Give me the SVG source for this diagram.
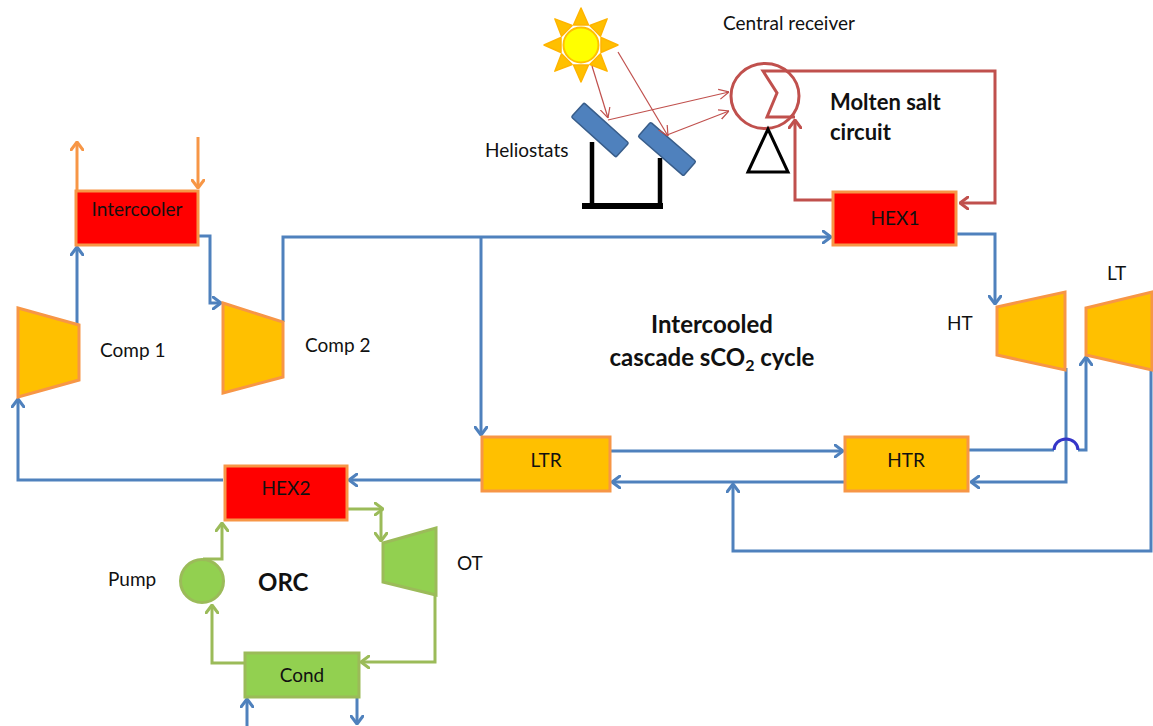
<svg xmlns="http://www.w3.org/2000/svg" xmlns:xlink="http://www.w3.org/1999/xlink" width="1153" height="726" viewBox="0 0 1153 726">
  <style>
    text { font-family: Lato, "Open Sans", "Liberation Sans", sans-serif; fill: #111; }
    .lbl { font-size: 19px; }
    .big { font-size: 22px; font-weight: bold; }
    .cycle { font-size: 24px; }
    .mid { text-anchor: middle; }
    .box-red { fill: #FF0000; stroke: #F79646; stroke-width: 3; }
    .box-amb { fill: #FFC000; stroke: #F79646; stroke-width: 3; }
    .box-grn { fill: #92D050; stroke: #9BBB59; stroke-width: 3; }
    .mach { fill: #FFC000; stroke: #F79646; stroke-width: 3; stroke-linejoin: miter; }
    .mach-grn { fill: #92D050; stroke: #9BBB59; stroke-width: 3; }
    .co2 { fill: none; stroke: #4F81BD; stroke-width: 3; marker-end: url(#ah-blue); }
    .co2-plain { fill: none; stroke: #4F81BD; stroke-width: 3; }
    .orc { fill: none; stroke: #9BBB59; stroke-width: 3; marker-end: url(#ah-green); }
    .salt { fill: none; stroke: #C0504D; stroke-width: 3; }
    .ray { fill: none; stroke: #C0504D; stroke-width: 1.2; marker-end: url(#ah-thin); }
    .cool { fill: none; stroke: #F79646; stroke-width: 3; marker-end: url(#ah-orange); }
  </style>
  <defs>
    <marker id="ah-blue" viewBox="0 0 10 14" refX="9" refY="7" markerWidth="10" markerHeight="14" markerUnits="userSpaceOnUse" orient="auto">
      <path d="M1,1 L9,7 L1,13" fill="none" stroke="#4F81BD" stroke-width="3" stroke-linecap="round" stroke-linejoin="round"/>
    </marker>
    <marker id="ah-green" viewBox="0 0 10 14" refX="9" refY="7" markerWidth="10" markerHeight="14" markerUnits="userSpaceOnUse" orient="auto">
      <path d="M1,1 L9,7 L1,13" fill="none" stroke="#9BBB59" stroke-width="3" stroke-linecap="round" stroke-linejoin="round"/>
    </marker>
    <marker id="ah-orange" viewBox="0 0 10 14" refX="9" refY="7" markerWidth="10" markerHeight="14" markerUnits="userSpaceOnUse" orient="auto">
      <path d="M1,1 L9,7 L1,13" fill="none" stroke="#F79646" stroke-width="3" stroke-linecap="round" stroke-linejoin="round"/>
    </marker>
    <marker id="ah-red" viewBox="0 0 10 14" refX="9" refY="7" markerWidth="10" markerHeight="14" markerUnits="userSpaceOnUse" orient="auto">
      <path d="M1,1 L9,7 L1,13" fill="none" stroke="#C0504D" stroke-width="3" stroke-linecap="round" stroke-linejoin="round"/>
    </marker>
    <marker id="ah-thin" viewBox="0 0 10 12" refX="10" refY="6" markerWidth="10" markerHeight="12" markerUnits="userSpaceOnUse" orient="auto">
      <path d="M0,1 L10,6 L0,11" fill="none" stroke="#C0504D" stroke-width="1.2"/>
    </marker>
    <polygon id="sunray" points="-7.5,-20 0,-37 7.5,-20" fill="#FFC000" stroke="#FFB400" stroke-width="1.5" stroke-linejoin="round"/>
  </defs>

  <rect width="1153" height="726" fill="#FFFFFF"/>

  <!-- Solar field -->
  <g id="sun" transform="translate(581,45)">
    <use xlink:href="#sunray"/>
    <use xlink:href="#sunray" transform="rotate(45)"/>
    <use xlink:href="#sunray" transform="rotate(90)"/>
    <use xlink:href="#sunray" transform="rotate(135)"/>
    <use xlink:href="#sunray" transform="rotate(180)"/>
    <use xlink:href="#sunray" transform="rotate(225)"/>
    <use xlink:href="#sunray" transform="rotate(270)"/>
    <use xlink:href="#sunray" transform="rotate(315)"/>
    <circle r="17.5" fill="#FFFF00" stroke="#FFC000" stroke-width="2"/>
  </g>

  <g id="heliostats">
    <path d="M592,142 V204 M660,158 V204" stroke="#000" stroke-width="4.5" fill="none"/>
    <rect x="582" y="203" width="81" height="6" fill="#000"/>
    <rect x="-30" y="-9.5" width="60" height="19" rx="1.5" transform="translate(600,130) rotate(42)" fill="#4F81BD" stroke="#385D8A" stroke-width="1.5"/>
    <rect x="-30" y="-9.5" width="60" height="19" rx="1.5" transform="translate(667,149) rotate(41)" fill="#4F81BD" stroke="#385D8A" stroke-width="1.5"/>
    <text class="lbl" x="485" y="157">Heliostats</text>
  </g>

  <g id="solar-rays">
    <path class="ray" d="M592,66 L608,118"/>
    <path class="ray" d="M618,52 L668,136"/>
    <path class="ray" d="M608,120 L729,92"/>
    <path class="ray" d="M667,135 L729,111"/>
  </g>

  <g id="central-receiver">
    <ellipse cx="765" cy="96" rx="34" ry="32.5" fill="none" stroke="#C0504D" stroke-width="3"/>
    <polygon points="748,172 768,129 788,172" fill="none" stroke="#000" stroke-width="3"/>
    <text class="lbl" x="723" y="30">Central receiver</text>
  </g>

  <g id="molten-salt-circuit">
    <path class="salt" d="M833,200 H795 V120" marker-end="url(#ah-red)"/>
    <path class="salt" d="M795,117 H767 L777,93 L763,71 H995 V203 H960" marker-end="url(#ah-red)"/>
    <text class="big" x="830" y="110">Molten salt</text>
    <text class="big" x="830" y="140">circuit</text>
  </g>

  <!-- Connectors -->
  <g id="connectors">
    <!-- sCO2 cycle -->
    <path class="co2" d="M283,322 V237 H831"/>
    <path class="co2" d="M481,237 V435"/>
    <path class="co2" d="M957,234 H995 V304"/>
    <path class="co2" d="M1066,368 V482 H971"/>
    <path class="co2-plain" d="M968,450 H1054"/>
    <path class="co2" d="M1078,450 H1086 V357"/>
    <path d="M1054,450 A12,11 0 0 1 1078,450" fill="none" stroke="#3535C8" stroke-width="3"/>
    <path class="co2" d="M1151,368 V551 H733 V484"/>
    <path class="co2" d="M610,451 H843"/>
    <path class="co2" d="M845,482 H612"/>
    <path class="co2" d="M482,480 H349"/>
    <path class="co2" d="M223,480 H18 V399"/>
    <path class="co2" d="M77,325 V247"/>
    <path class="co2" d="M198,236 H210 V303 H221"/>
    <!-- condenser cooling water -->
    <path class="co2" d="M247,726 V699"/>
    <path class="co2" d="M357,697 V724"/>
    <!-- intercooler coolant -->
    <path class="cool" d="M77,190 V142"/>
    <path class="cool" d="M198,137 V188"/>
    <!-- ORC loop -->
    <path class="orc" d="M348,509 H383"/>
    <path class="orc" d="M381,509 V541"/>
    <path class="orc" d="M435,595 V662 H361"/>
    <path class="orc" d="M245,663 H212 V605"/>
    <path class="orc" d="M203,559 H222 V523"/>
  </g>

  <!-- Equipment -->
  <g id="intercooler">
    <rect class="box-red" x="76" y="191" width="122" height="54"/>
    <text class="lbl mid" x="137" y="216">Intercooler</text>
  </g>
  <g id="comp1">
    <polygon class="mach" points="18,308 79,325 79,380 18,397"/>
    <text class="lbl" x="100" y="357">Comp 1</text>
  </g>
  <g id="comp2">
    <polygon class="mach" points="223,303 283,322 283,377 223,393"/>
    <text class="lbl" x="305" y="352">Comp 2</text>
  </g>
  <g id="hex1">
    <rect class="box-red" x="833" y="192" width="123" height="53"/>
    <text class="lbl mid" x="895" y="225">HEX1</text>
  </g>
  <g id="ht">
    <polygon class="mach" points="997,307 1065,292 1065,370 997,355"/>
    <text class="lbl" x="947" y="330">HT</text>
  </g>
  <g id="lt">
    <polygon class="mach" points="1086,308 1152,292 1152,370 1086,355"/>
    <text class="lbl" x="1107" y="280">LT</text>
  </g>
  <g id="ltr">
    <rect class="box-amb" x="482" y="437" width="128" height="54"/>
    <text class="lbl mid" x="546" y="467">LTR</text>
  </g>
  <g id="htr">
    <rect class="box-amb" x="845" y="437" width="123" height="54"/>
    <text class="lbl mid" x="906" y="467">HTR</text>
  </g>
  <g id="hex2">
    <rect class="box-red" x="225" y="466" width="122" height="54"/>
    <text class="lbl mid" x="286" y="495">HEX2</text>
  </g>
  <g id="ot">
    <polygon class="mach-grn" points="383,543 436,528 436,595 383,582"/>
    <text class="lbl" x="457" y="570">OT</text>
  </g>
  <g id="cond">
    <rect class="box-grn" x="245" y="653" width="114" height="44"/>
    <text class="lbl mid" x="302" y="682">Cond</text>
  </g>
  <g id="pump">
    <circle cx="202" cy="581" r="21.5" fill="#92D050" stroke="#9BBB59" stroke-width="3"/>
    <text class="lbl" x="108" y="586">Pump</text>
  </g>

  <!-- Cycle labels -->
  <g id="cycle-labels">
    <text class="big cycle mid" x="712" y="333">Intercooled</text>
    <text class="big cycle mid" x="712" y="366">cascade sCO<tspan style="font-size:16px" dy="5">2</tspan><tspan dy="-5"> cycle</tspan></text>
    <text class="big cycle" x="258" y="591">ORC</text>
  </g>
</svg>
